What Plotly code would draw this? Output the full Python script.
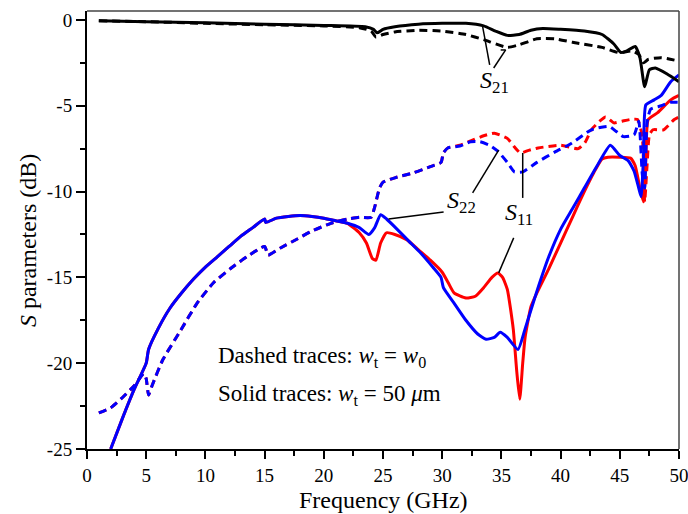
import plotly.graph_objects as go

# ---------------- data ----------------
s21_solid_x = [1, 5, 10, 15, 20, 23.5, 24.2, 24.5, 25, 26, 28, 30, 32, 33.5, 34.5, 35.5, 36.5, 37.5, 38.5, 40, 42, 43.5, 44.5, 45.1, 45.6, 46.3, 46.7, 47.1, 47.5, 48, 49, 50]
s21_solid_y = [-0.05, -0.1, -0.17, -0.25, -0.32, -0.4, -0.55, -0.75, -0.55, -0.4, -0.25, -0.2, -0.2, -0.35, -0.65, -0.9, -0.85, -0.6, -0.5, -0.55, -0.65, -0.85, -1.4, -1.9, -1.8, -1.55, -2.2, -3.9, -2.9, -2.8, -3.15, -3.6]

s21_dash_x = [1, 5, 10, 15, 20, 23, 24, 24.4, 25, 26, 28, 30, 32, 33.5, 35.5, 36.5, 38, 39.5, 41, 43.5, 45, 46, 46.6, 47, 47.4, 48.5, 50]
s21_dash_y = [-0.05, -0.1, -0.2, -0.28, -0.35, -0.45, -0.65, -1.0, -0.85, -0.7, -0.6, -0.65, -0.85, -1.15, -1.6, -1.45, -1.1, -1.1, -1.3, -1.6, -1.92, -1.8, -2.0, -2.5, -2.3, -2.2, -2.4]

common_solid_x = [2, 3, 4, 5, 5.2, 6, 7, 8, 9, 10, 11, 12, 13, 14, 15, 15.1, 16, 17, 18, 19, 20, 21, 22]
common_solid_y = [-25, -23.2, -21.5, -20.0, -19.2, -18.0, -16.8, -15.9, -15.1, -14.4, -13.8, -13.2, -12.6, -12.1, -11.6, -11.8, -11.55, -11.45, -11.4, -11.45, -11.55, -11.7, -11.85]

s22_solid_x_tail = [23, 23.8, 24.3, 24.8, 25.3, 26.2, 27.2, 28.2, 29.2, 29.9, 30.1, 31, 32, 33, 33.7, 34.4, 34.9, 35.5, 36.4, 37, 38, 39, 40, 41, 42, 43, 44.2, 45, 45.7, 46.2, 46.6, 46.8, 47.0, 47.2, 47.9, 48.5, 49.3, 50]
s22_solid_y_tail = [-12.1, -12.5, -12.1, -11.35, -11.6, -12.2, -12.9, -13.6, -14.4, -15.0, -15.6, -16.5, -17.5, -18.3, -18.6, -18.5, -18.2, -18.5, -19.2, -18.0, -15.8, -13.8, -12.2, -11.0, -9.8, -8.6, -7.3, -7.9, -8.2, -8.8, -9.8, -10.3, -8.0, -4.95, -4.66, -4.4, -3.6, -3.2]

s11_solid_x_tail = [23, 23.6, 24.1, 24.4, 24.8, 25.3, 26, 27, 28, 29, 30, 30.5, 31, 32, 32.8, 33.5, 34.2, 34.7, 35.1, 35.5, 36.0, 36.3, 36.55, 36.8, 37.0, 37.5, 38, 39, 40, 41, 42, 42.8, 43.5, 44, 45, 45.9, 46.3, 46.7, 47.0, 47.2, 47.4, 48.2, 49.3, 50]
s11_solid_y_tail = [-12.4, -13.0, -13.9, -14.0, -13.0, -12.4, -12.5, -12.8, -13.4, -14.0, -14.7, -15.3, -15.9, -16.2, -16.1, -15.6, -15.0, -14.75, -15.0, -15.7, -18.0, -20.5, -22.1, -20.0, -18.5, -16.7, -15.9, -14.5, -13.0, -11.5, -10.0, -8.9, -8.1, -8.0, -8.0, -8.05, -8.5, -9.8, -10.6, -8.0, -5.8, -5.4, -4.66, -4.4]

common_dash_x = [1, 2, 3, 4, 4.8, 5.0, 5.2, 5.5, 6.4, 7.9, 9.3, 10.7, 12.1, 13.5, 15, 15.3, 16.3, 17.8, 19, 20.6, 22, 23, 24, 24.3, 24.7, 25, 26, 27.6, 29, 29.9, 30.1, 30.5]
common_dash_y = [-22.9, -22.6, -22.0, -21.3, -20.6, -20.9, -21.85, -21.3, -19.8, -18.1, -16.5, -15.3, -14.5, -13.8, -13.2, -13.7, -13.3, -12.75, -12.3, -11.85, -11.6, -11.5, -11.5, -10.9, -9.8, -9.45, -9.2, -8.9, -8.55, -8.3, -7.75, -7.45]

s11_dash_x_tail = [31.5, 32.4, 33.5, 34.4, 35.5, 36.1, 36.6, 37.3, 38.1, 40, 41.5, 42.1, 42.6, 43.3, 43.8, 44.5, 45.2, 45.9, 46.5, 46.9, 47.1, 47.3, 47.5, 47.8, 48.7, 49.6, 50]
s11_dash_y_tail = [-7.3, -7.05, -6.75, -6.6, -6.9, -7.4, -7.75, -7.6, -7.46, -7.3, -7.5, -7.1, -6.4, -5.9, -5.65, -6.0, -5.9, -5.8, -5.8, -6.8, -10.6, -8.5, -6.7, -6.4, -6.4, -5.8, -5.65]

s22_dash_x_tail = [31.5, 32.4, 33.2, 34, 34.7, 35.5, 36.1, 36.8, 38, 39.5, 40.9, 42.6, 44.1, 44.7, 45.3, 46.2, 46.6, 46.9, 47.1, 47.3, 47.6, 48.5, 49.3, 50]
s22_dash_y_tail = [-7.35, -7.1, -7.1, -7.3, -7.65, -8.3, -8.85, -8.85, -8.3, -7.7, -7.2, -6.4, -6.2, -6.5, -6.8, -6.7, -5.9, -9.0, -9.8, -6.0, -5.2, -5.0, -4.8, -4.8]

x_tick_vals = [0, 5, 10, 15, 20, 25, 30, 35, 40, 45, 50]
x_tick_text = ["0", "5", "10", "15", "20", "25", "30", "35", "40", "45", "50"]
y_tick_vals = [-25, -20, -15, -10, -5, 0]
y_tick_text = ["-25", "-20", "-15", "-10", "-5", "0"]

# ---------------- figure ----------------
FONT = "Liberation Serif"
RED = "#FF0000"
BLUE = "#0000FF"
DASH = "8px,5px"

fig = go.Figure()

def add(x, y, color, dash):
    fig.add_trace(go.Scatter(x=x, y=y, mode="lines",
                             line=dict(color=color, width=3, dash=dash, shape="spline", smoothing=0.5),
                             showlegend=False, hoverinfo="skip"))

add(common_dash_x + s11_dash_x_tail, common_dash_y + s11_dash_y_tail, RED, DASH)
add(common_solid_x + s11_solid_x_tail, common_solid_y + s11_solid_y_tail, RED, "solid")
add(common_dash_x + s22_dash_x_tail, common_dash_y + s22_dash_y_tail, BLUE, DASH)
add(common_solid_x + s22_solid_x_tail, common_solid_y + s22_solid_y_tail, BLUE, "solid")
add(s21_dash_x, s21_dash_y, "black", DASH)
add(s21_solid_x, s21_solid_y, "black", "solid")

# pointer lines
pointers = [
    (34.01, -2.62, 33.42, -0.41),
    (34.35, -2.80, 35.36, -1.75),
    (34.94, -1.75, 35.36, -1.75),
    (30.12, -11.19, 25.47, -11.6),
    (32.57, -10.08, 34.77, -7.58),
    (36.8, -7.75, 36.8, -10.37),
    (36.04, -12.7, 34.77, -14.74),
]
for x0, y0, x1, y1 in pointers:
    fig.add_shape(type="line", x0=x0, y0=y0, x1=x1, y1=y1, xref="x", yref="y",
                  line=dict(color="black", width=1.5))

# frame top/right
fig.add_shape(type="line", xref="paper", yref="paper", x0=0, x1=1, y0=1, y1=1,
              line=dict(color="#444444", width=1.5))
fig.add_shape(type="line", xref="paper", yref="paper", x0=1, x1=1, y0=0, y1=1,
              line=dict(color="#444444", width=1.5))

labels = [
    (34.4, -3.6, "<i>S</i><sub>21</sub>"),
    (31.6, -10.6, "<i>S</i><sub>22</sub>"),
    (36.5, -11.3, "<i>S</i><sub>11</sub>"),
]
for x, y, t in labels:
    fig.add_annotation(x=x, y=y, xref="x", yref="y", text=t, showarrow=False,
                       font=dict(family=FONT, size=24, color="black"))

fig.add_annotation(x=10.9, y=-19.64, xref="x", yref="y", xanchor="left",
                   text="Dashed traces: <i>w</i><sub>t</sub> = <i>w</i><sub>0</sub>",
                   showarrow=False, font=dict(family=FONT, size=23, color="black"))
fig.add_annotation(x=10.9, y=-21.85, xref="x", yref="y", xanchor="left",
                   text="Solid traces: <i>w</i><sub>t</sub> = 50 <i>μ</i>m",
                   showarrow=False, font=dict(family=FONT, size=23, color="black"))

fig.add_annotation(x=0.5, y=-0.116, xref="paper", yref="paper", xanchor="center", yanchor="middle",
                   text="Frequency (GHz)",
                   showarrow=False, font=dict(family=FONT, size=24, color="black"))
fig.add_annotation(x=-0.0997, y=0.477, xref="paper", yref="paper", textangle=-90,
                   xanchor="center", yanchor="middle",
                   text="<i>S</i> parameters (dB)",
                   showarrow=False, font=dict(family=FONT, size=24, color="black"))

fig.update_layout(
    width=688, height=514,
    margin=dict(l=87, r=9, t=11, b=65, autoexpand=False),
    paper_bgcolor="white", plot_bgcolor="white",
    font=dict(family=FONT, size=18, color="black"),
    xaxis=dict(range=[0, 50], showgrid=False, zeroline=False, showline=True, automargin=False,
               ticklabeloverflow="allow",
               linecolor="black", linewidth=2, ticks="outside", ticklen=8, tickwidth=2,
               tickcolor="black", tickvals=x_tick_vals, ticktext=x_tick_text,
               minor=dict(dtick=2.5, tick0=0, ticks="outside", ticklen=5, tickwidth=2, tickcolor="black"),
               tickfont=dict(family=FONT, size=19, color="black")),
    yaxis=dict(range=[-25, 0.52], showgrid=False, zeroline=False, showline=True, automargin=False,
               ticklabeloverflow="allow",
               linecolor="black", linewidth=2, ticks="outside", ticklen=9, tickwidth=2,
               tickcolor="black", tickvals=y_tick_vals, ticktext=y_tick_text,
               minor=dict(dtick=2.5, tick0=0, ticks="outside", ticklen=5, tickwidth=2, tickcolor="black"),
               tickfont=dict(family=FONT, size=19, color="black")),
)

fig.write_html("out.html")
